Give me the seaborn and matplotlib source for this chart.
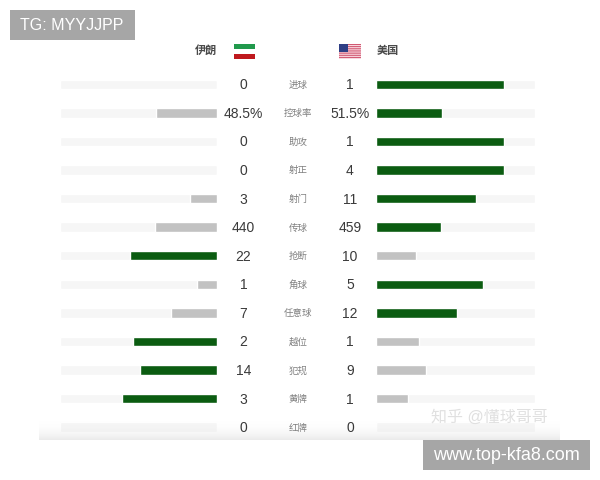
import numpy as np
import pandas as pd
import matplotlib
matplotlib.use('Agg')
import matplotlib.pyplot as plt
from matplotlib.patches import Rectangle
import seaborn as sns

sns.set_theme(style='white')
plt.rcParams['font.family'] = ['Liberation Sans', 'Noto Sans CJK SC', 'DejaVu Sans']

# stats, top to bottom
stats = ['进球', '控球率', '助攻', '射正', '射门', '传球', '抢断', '角球', '任意球', '越位', '犯规', '黄牌', '红牌']
iran_labels = ['0', '48.5%', '0', '0', '3', '440', '22', '1', '7', '2', '14', '3', '0']
usa_labels = ['1', '51.5%', '1', '4', '11', '459', '10', '5', '12', '1', '9', '1', '0']

# bar length as % of the grey track
iran_bar = [0, 39, 0, 0, 17, 39.5, 55.5, 13, 29.5, 53.5, 49, 60.5, 0]
usa_bar = [80.5, 41.5, 80.5, 80.5, 63, 41, 25, 67, 50.5, 27, 31, 20, 0]
iran_lead = [False, False, False, False, False, False, True, False, False, True, True, True, False]
usa_lead = [True, True, True, True, True, True, False, True, True, False, False, False, False]

GREEN = '#0b5c11'
GREY = '#c2c2c2'
TRACK = '#f6f6f6'
W, H = 600, 480


def px_axes(fig, x0, y0, x1, y1):
    return fig.add_axes([x0 / W, 1 - y1 / H, (x1 - x0) / W, (y1 - y0) / H])


def draw_side(ax, vals, lead):
    df = pd.DataFrame({'stat': stats, 'val': vals, 'track': 100})
    colors = [GREEN if l else GREY for l in lead]
    sns.barplot(data=df, y='stat', x='track', color=TRACK, width=0.33, ax=ax, saturation=1)
    sns.barplot(data=df, y='stat', x='val', hue='stat', palette=colors, legend=False,
                width=0.33, ax=ax, saturation=1)
    ax.set_xlim(0, 100)
    ax.axis('off')


fig = plt.figure(figsize=(6, 4.8), dpi=100)

# page coordinates in pixels for the text and the overlays
page = fig.add_axes([0, 0, 1, 1])
page.set_xlim(0, W)
page.set_ylim(H, 0)
page.axis('off')

left = px_axes(fig, 60, 70, 217, 441.5)
draw_side(left, iran_bar, iran_lead)
left.invert_xaxis()

right = px_axes(fig, 376.5, 70, 535, 441.5)
draw_side(right, usa_bar, usa_lead)

row_h = 28.58
for i, name in enumerate(stats):
    y = 85.2 + i * row_h
    page.text(243.5, y, iran_labels[i], ha='center', va='center', fontsize=10, color='#3a3a3a')
    page.text(350, y, usa_labels[i], ha='center', va='center', fontsize=10, color='#3a3a3a')
    page.text(298, y, name, ha='center', va='center', fontsize=6.8, color='#808080')

page.text(206, 51, '伊朗', ha='center', va='center', fontsize=8, color='#4a4a4a', weight='bold')
page.text(388, 51, '美国', ha='center', va='center', fontsize=8, color='#4a4a4a', weight='bold')

# flags
iran_flag = px_axes(fig, 234, 44, 255, 59)
iran_flag.imshow(np.array([[[0.13, 0.6, 0.3]], [[1, 1, 1]], [[0.75, 0.1, 0.12]]]), aspect='auto')
iran_flag.axis('off')

usa_flag = px_axes(fig, 339, 44, 360, 59)
stripes = np.array([[[0.82, 0.35, 0.45]], [[0.98, 0.85, 0.88]]] * 7)
usa_flag.imshow(stripes, aspect='auto', extent=(0, 1, 0, 1))
usa_flag.add_patch(Rectangle((0, 0.5), 0.42, 0.5, color='#2f3f85', lw=0))
usa_flag.axis('off')

# fade at the bottom of the screenshot
fade = px_axes(fig, 39, 418, 560, 440)
grad = np.zeros((22, 1, 4))
grad[..., :3] = 0.85
grad[:, 0, 3] = np.linspace(0, 1, 22) ** 2.5 * 0.5
fade.imshow(grad, aspect='auto')
fade.axis('off')

# watermarks
page.set_zorder(5)
page.text(489.5, 417, '知乎 @懂球哥哥', ha='center', va='center', fontsize=11.5, color='#e0e0e0')
page.add_patch(Rectangle((10, 10), 125, 30, color='#a6a6a6', lw=0))
page.text(72, 25, 'TG: MYYJJPP', ha='center', va='center', fontsize=11.5, color='white')
page.add_patch(Rectangle((423, 440), 167, 30, color='#a6a6a6', lw=0))
page.text(506, 455, 'www.top-kfa8.com', ha='center', va='center', fontsize=13, color='white')

fig.savefig('out.png', dpi=100)
